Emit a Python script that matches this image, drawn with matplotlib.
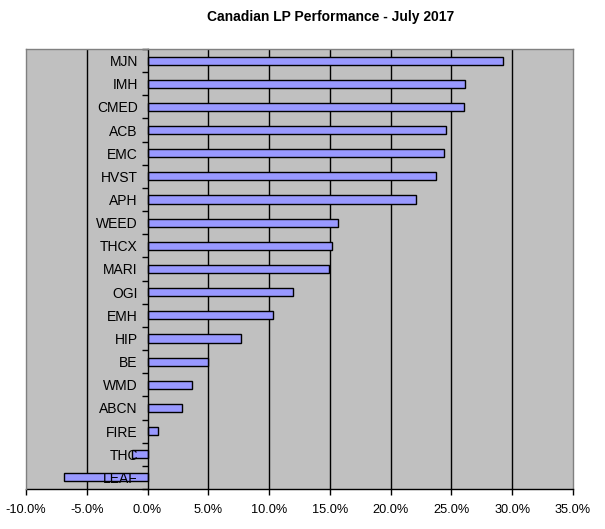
import matplotlib
matplotlib.use("Agg")
import matplotlib.pyplot as plt
import numpy as np

plt.rcParams['font.family'] = ['Liberation Sans', 'DejaVu Sans']

tickers = ["MJN", "IMH", "CMED", "ACB", "EMC", "HVST", "APH", "WEED", "THCX",
           "MARI", "OGI", "EMH", "HIP", "BE", "WMD", "ABCN", "FIRE", "THC", "LEAF"]
performance = [29.25, 26.1, 26.0, 24.55, 24.4, 23.75, 22.1, 15.7, 15.2,
               14.95, 12.0, 10.35, 7.7, 4.95, 3.65, 2.8, 0.9, -1.25, -6.9]
x_ticks = [-10, -5, 0, 5, 10, 15, 20, 25, 30, 35]
title = "Canadian LP Performance - July 2017"

W, H = 605, 529
fig = plt.figure(figsize=(W / 100, H / 100), dpi=100)
ax = fig.add_axes([26 / W, (H - 489) / H, 547 / W, 440 / H])
ax.set_facecolor('#C0C0C0')

y = np.arange(len(tickers))
ax.barh(y, performance, height=0.35, color='#9999FF', edgecolor='black',
        linewidth=1.0, zorder=1)

# vertical gridlines behind bars
for xv in x_ticks:
    if xv not in (-10, 0, 35):
        ax.axvline(xv, color='black', linewidth=1.0, zorder=0.5)

ax.set_xlim(-10, 35)
ax.set_ylim(len(tickers) - 0.5, -0.5)

ax.set_xticks(x_ticks)
ax.set_xticklabels([f"{v:.1f}%" for v in x_ticks], fontsize=9.2)
ax.tick_params(axis='x', direction='out', length=4, width=1, pad=7, colors='black')

ax.set_yticks(y)
ax.set_yticklabels(tickers, fontsize=9.2)
ax.set_yticks(np.arange(len(tickers) + 1) - 0.5, minor=True)
ax.tick_params(axis='y', which='major', length=0, pad=7)
ax.tick_params(axis='y', which='minor', length=4, width=1, direction='out')

ax.spines['left'].set_position(('data', 0))
ax.spines['left'].set_color('black')
ax.spines['left'].set_linewidth(1.0)
ax.spines['bottom'].set_color('black')
ax.spines['bottom'].set_linewidth(1.0)
for s in ('top', 'right'):
    ax.spines[s].set_color('#808080')
    ax.spines[s].set_linewidth(1.0)
ax.plot([-10, -10], [-0.5, len(tickers) - 0.5], color='#808080', linewidth=1.0,
        clip_on=False, zorder=3)

fig.text(331 / W, 1 - 17 / H, title, ha='center', va='center',
         fontsize=10, fontweight='bold')

fig.savefig('out.png', dpi=100, facecolor='white')
